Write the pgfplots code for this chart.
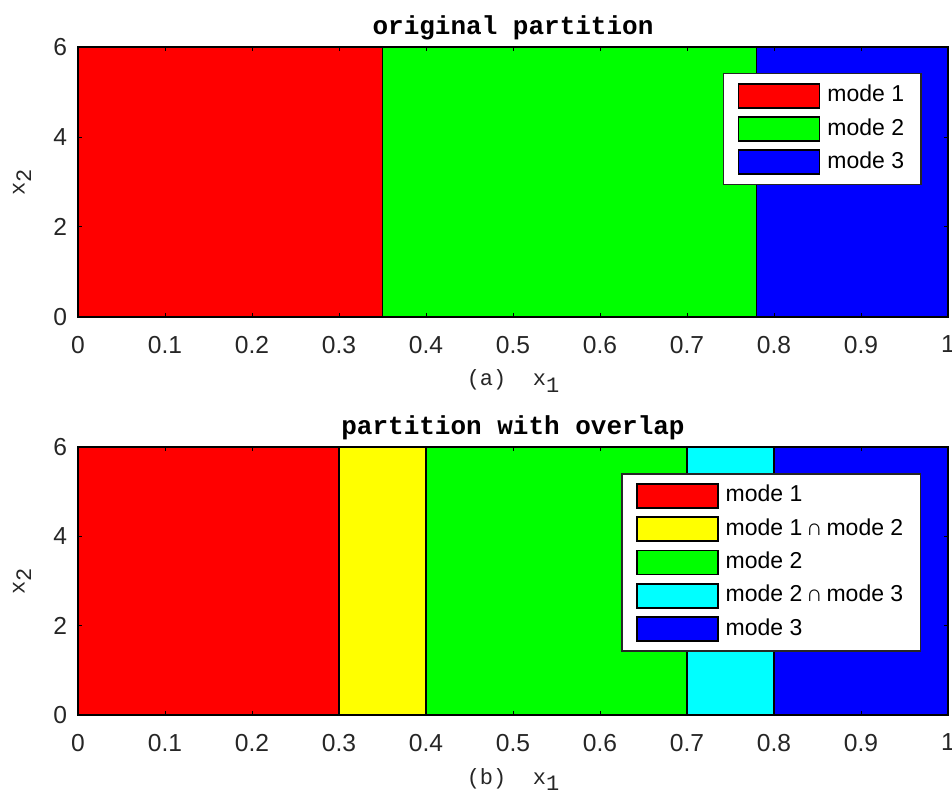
\documentclass[border=0pt]{standalone}
\usepackage{pgfplots}
\pgfplotsset{compat=1.18}
\usepackage{fontspec}
\setmainfont{Liberation Sans}
\newfontfamily\cour{Liberation Mono}
\definecolor{tickgray}{RGB}{38,38,38}
\definecolor{mred}{RGB}{255,0,0}
\definecolor{mgreen}{RGB}{0,255,0}
\definecolor{mblue}{RGB}{0,0,255}
\definecolor{myellow}{RGB}{255,255,0}
\definecolor{mcyan}{RGB}{0,255,255}
\pgfplotsset{
  partstyle/.style={
    scale only axis, width=435pt,
    xmin=0, xmax=1, ymin=0, ymax=6,
    xtick={0,0.1,0.2,0.3,0.4,0.5,0.6,0.7,0.8,0.9,1},
    ytick={0,2,4,6},
    xticklabels={0,0.1,0.2,0.3,0.4,0.5,0.6,0.7,0.8,0.9,1},
    tick align=inside, major tick length=2pt,
    tick style={black, line width=0.5pt},
    axis line style={black, line width=0.75pt},
    ticklabel style={color=tickgray, font=\fontsize{12.3}{14}\selectfont},
    xticklabel style={yshift=-6pt},
    yticklabel style={xshift=-2pt},
    /pgf/number format/assume math mode=true,
    every axis title shift=0pt,
    title style={font=\cour\bfseries\fontsize{13}{15}\selectfont,
      at={(axis description cs:0.5,1)}, anchor=base, yshift=6.5pt},
    xlabel style={font=\cour\fontsize{11}{13}\selectfont, color=tickgray,
      at={(axis description cs:0.5,0)}, anchor=base, yshift=-34.5pt},
    ylabel style={font=\cour\fontsize{11}{13}\selectfont, color=tickgray,
      at={(axis description cs:0,0.5)}, anchor=center, yshift=28pt},
    legend cell align=left,
    legend style={draw=black!85, line width=0.75pt, fill=white,
      font=\fontsize{11.5}{13}\selectfont,
      nodes={text height=8.5pt, text depth=2.5pt, inner sep=1.5pt},
      row sep=2.67pt, inner xsep=7pt, inner ysep=4pt,
      /tikz/every odd column/.append style={column sep=2pt}},
    axis on top,
  },
  region/.style={fill=#1, draw=black, line width=0.75pt,
    legend image code/.code={\draw[fill=#1, draw=black, line width=0.9pt] (0pt,-6pt) rectangle (40.5pt,6pt);}},
}
\begin{document}
\begin{tikzpicture}
\path[use as bounding box] (-39pt,-239.5pt) rectangle (437pt,158.5pt);
\begin{axis}[partstyle, height=135pt, at={(0,0)}, anchor=south west,
  title={original partition},
  xlabel={(a)\ \ x\raisebox{-0.55ex}{1}},
  ylabel={x\raisebox{-0.55ex}{2}},
  legend style={at={(0.970,0.904)}, anchor=north east}]
\addplot[region=mred] coordinates {(0,0) (0.35,0) (0.35,6) (0,6)} -- cycle;
\addlegendentry{mode 1}
\addplot[region=mgreen] coordinates {(0.35,0) (0.78,0) (0.78,6) (0.35,6)} -- cycle;
\addlegendentry{mode 2}
\addplot[region=mblue] coordinates {(0.78,0) (1,0) (1,6) (0.78,6)} -- cycle;
\addlegendentry{mode 3}
\end{axis}
\begin{axis}[partstyle, height=134pt, at={(0,-199pt)}, anchor=south west,
  title={partition with overlap},
  xlabel={(b)\ \ x\raisebox{-0.55ex}{1}},
  ylabel={x\raisebox{-0.55ex}{2}},
  legend style={at={(0.969,0.903)}, anchor=north east}]
\addplot[region=mred] coordinates {(0,0) (0.3,0) (0.3,6) (0,6)} -- cycle;
\addlegendentry{mode 1}
\addplot[region=myellow] coordinates {(0.3,0) (0.4,0) (0.4,6) (0.3,6)} -- cycle;
\addlegendentry{mode 1\,∩\,mode 2}
\addplot[region=mgreen] coordinates {(0.4,0) (0.7,0) (0.7,6) (0.4,6)} -- cycle;
\addlegendentry{mode 2}
\addplot[region=mcyan] coordinates {(0.7,0) (0.8,0) (0.8,6) (0.7,6)} -- cycle;
\addlegendentry{mode 2\,∩\,mode 3}
\addplot[region=mblue] coordinates {(0.8,0) (1,0) (1,6) (0.8,6)} -- cycle;
\addlegendentry{mode 3}
\end{axis}
\end{tikzpicture}
\end{document}
